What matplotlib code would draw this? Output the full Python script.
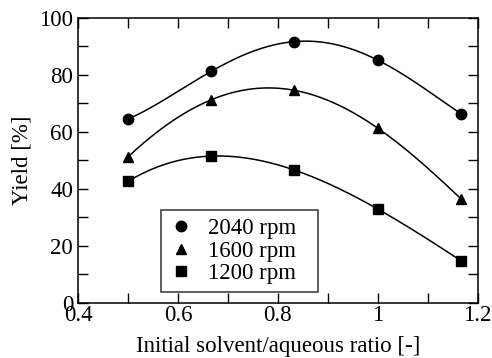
import numpy as np
import matplotlib.pyplot as plt

plt.rcParams['font.family'] = ['Liberation Serif', 'DejaVu Serif']

# solvent/aqueous ratio and yields
ratio = [0.5, 0.667, 0.833, 1.0, 1.167]
yield_2040 = [64.5, 81.3, 91.7, 85.2, 66.3]
yield_1600 = [51.2, 71.3, 74.6, 61.3, 36.4]
yield_1200 = [42.6, 51.5, 46.6, 32.9, 14.7]
labels = ["2040 rpm", "1600 rpm", "1200 rpm"]
markers = ["o", "^", "s"]

fig = plt.figure(figsize=(4.92, 3.58), dpi=100)
ax = fig.add_axes([78/492, 1 - 302.7/358, 399.7/492, 284.7/358])

xs = np.linspace(ratio[0], ratio[-1], 200)
for ys, lab, m in zip([yield_2040, yield_1600, yield_1200], labels, markers):
    # smooth trend curve through the measured points
    coef = np.polyfit(ratio, ys, 4)
    ax.plot(xs, np.polyval(coef, xs), color="black", lw=1.1)
    ax.plot(ratio, ys, linestyle="none", marker=m, color="black",
            markersize=7.5, label=lab)

ax.set_xlim(0.4, 1.2)
ax.set_ylim(0, 100)
ax.set_xticks([0.4, 0.6, 0.8, 1.0, 1.2])
ax.set_xticklabels(["0.4", "0.6", "0.8", "1", "1.2"])
ax.set_xticks(np.arange(0.5, 1.2, 0.2), minor=True)
ax.set_yticks(range(0, 101, 20))
ax.set_yticks(range(10, 100, 20), minor=True)
ax.tick_params(which="both", direction="in", top=True, right=True,
               labelsize=16.5, width=1, length=7)
ax.tick_params(axis="x", pad=2)
for s in ax.spines.values():
    s.set_linewidth(1.1)

ax.set_xlabel("Initial solvent/aqueous ratio [-]", fontsize=16.5, labelpad=7)
ax.set_ylabel("Yield [%]", fontsize=16.5, labelpad=5)

leg = ax.legend(loc="lower left", bbox_to_anchor=(0.208, 0.038, 0.393, 0.29),
                mode="expand", borderaxespad=0, fontsize=16.5, frameon=True,
                fancybox=False, handletextpad=0.7, labelspacing=0.05,
                handlelength=1.0, borderpad=0.35)
leg.get_frame().set_edgecolor("black")
leg.get_frame().set_linewidth(1.1)

fig.savefig("out.png", dpi=100)
